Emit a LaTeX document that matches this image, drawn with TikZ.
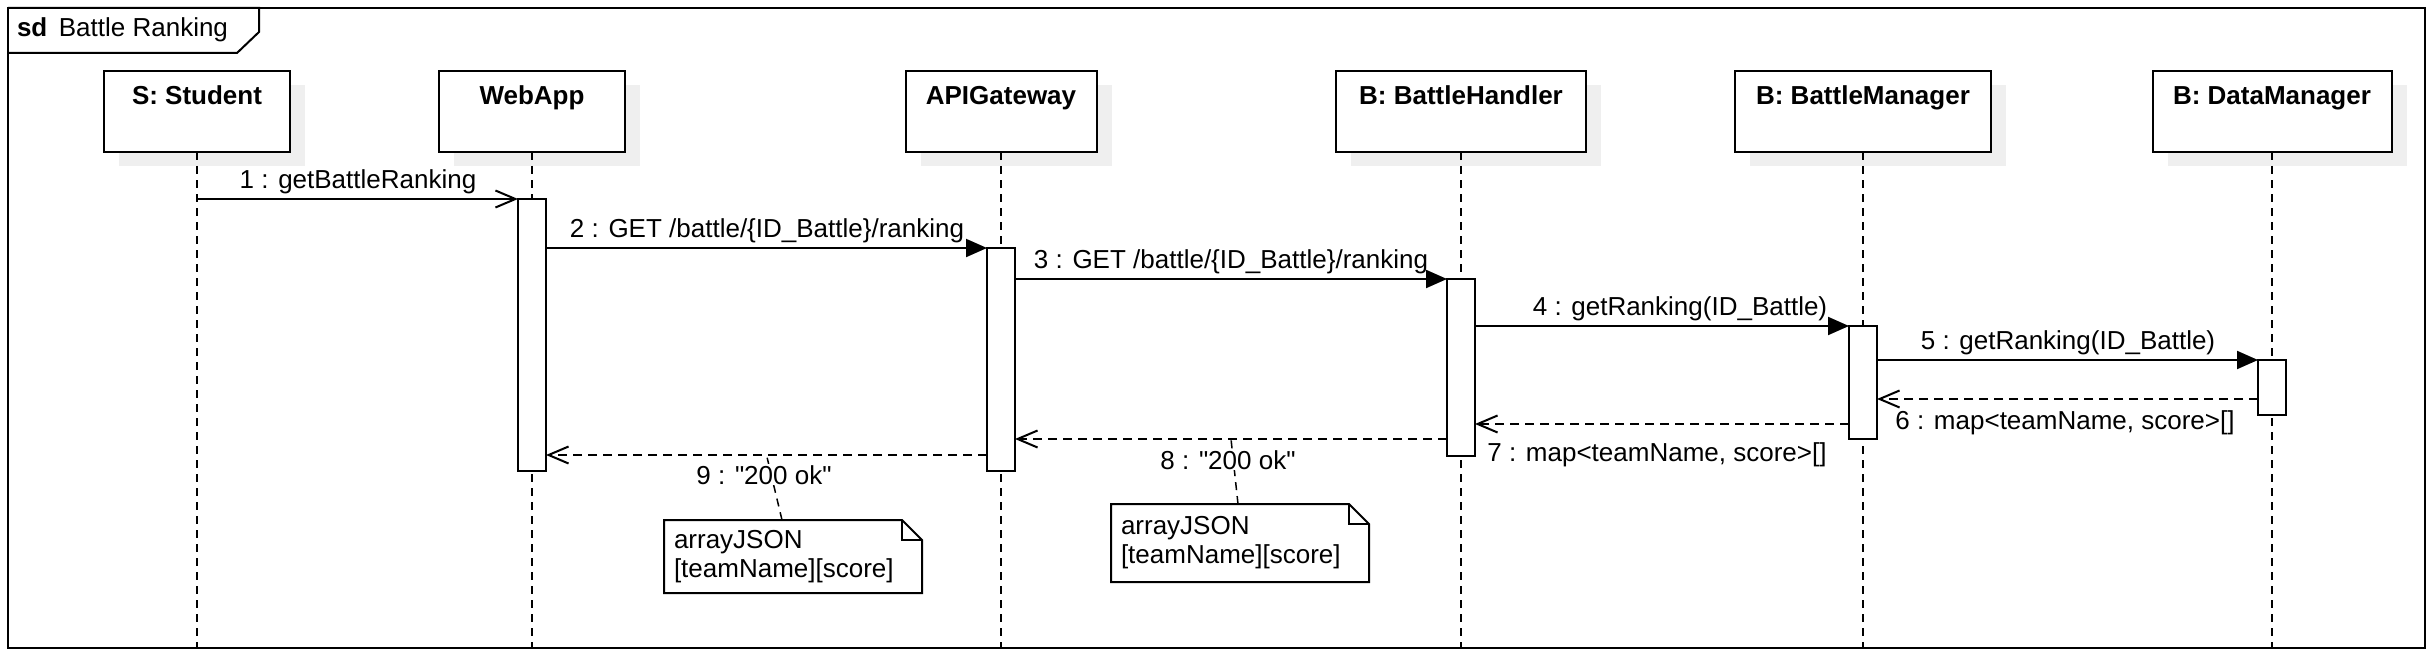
\documentclass[tikz,border=0pt]{standalone}
\usepackage{fontspec}
\setmainfont{Liberation Sans}[Ligatures=TeXOff]
\usetikzlibrary{arrows.meta,calc,shadows}
\definecolor{shadowc}{HTML}{EFEFEF}
\begin{document}
\begin{tikzpicture}[x=1pt,y=-1pt,
  font=\fontsize{26}{29}\selectfont,
  every node/.style={inner sep=0pt, outer sep=0pt},
  lifebox/.style={draw, fill=white, line width=2pt, minimum height=81pt,
    general shadow={fill=shadowc, shadow xshift=15pt, shadow yshift=-14pt}},
  boxtitle/.style={anchor=base, font=\fontsize{26}{29}\selectfont\bfseries},
  act/.style={draw, fill=white, line width=2pt, minimum width=28pt, anchor=north},
  life/.style={line width=2pt, dash pattern=on 8pt off 6pt},
  call/.style={line width=2pt, -{Triangle[length=21pt,width=18pt]}},
  async/.style={line width=2pt, -{Straight Barb[length=20pt,width=17pt]}},
  ret/.style={line width=2pt, dash pattern=on 9pt off 6pt, -{Straight Barb[length=20pt,width=17pt]}},
  msglabel/.style={anchor=base},
  notebox/.style={minimum width=258pt, anchor=north west, align=left, text width=238pt, inner xsep=10pt},
  noteline/.style={line width=1.5pt, dash pattern=on 8pt off 6pt},
  noteborder/.style={line width=2pt}
]
\useasboundingbox (0,0) rectangle (2434,658);
% frame
\draw[line width=2pt] (8,8) rectangle (2425,648);
\coordinate (fb) at (0,648);
\draw[line width=2pt] (8,8) -- (259,8) -- (259,32) -- (237,53) -- (8,53);
\node[anchor=base west] (title) at (17,37) {\textbf{sd}\, Battle Ranking};

% lifeline heads
\node[lifebox, minimum width=186pt] (stu) at (197,111.5) {};
\node[lifebox, minimum width=186pt] (web) at (532,111.5) {};
\node[lifebox, minimum width=191pt] (api) at (1001,111.5) {};
\node[lifebox, minimum width=250pt] (bh) at (1461,111.5) {};
\node[lifebox, minimum width=256pt] (bm) at (1863,111.5) {};
\node[lifebox, minimum width=239pt] (dm) at (2272,111.5) {};
\node[boxtitle] (stuT) at (197,105) {S: Student};
\node[boxtitle] (webT) at (532,105) {WebApp};
\node[boxtitle] (apiT) at (1001,105) {APIGateway};
\node[boxtitle] (bhT) at (1461,105) {B: BattleHandler};
\node[boxtitle] (bmT) at (1863,105) {B: BattleManager};
\node[boxtitle] (dmT) at (2272,105) {B: DataManager};

% lifelines
\foreach \n in {stu,web,api,bh,bm,dm}
  \draw[life] (\n.south) -- (\n.south |- fb);

% activations
\node[act, minimum height=272pt] (aweb) at (532,199) {};
\node[act, minimum height=223pt] (aapi) at (1001,248) {};
\node[act, minimum height=177pt] (abh) at (1461,279) {};
\node[act, minimum height=113pt] (abm) at (1863,326) {};
\node[act, minimum height=55pt] (adm) at (2272,360) {};

% calls
\draw[async] (stu.south |- aweb.north west) -- (aweb.north west);
\draw[call] (aweb.east |- aapi.north west) -- (aapi.north west);
\draw[call] (aapi.east |- abh.north west) -- (abh.north west);
\draw[call] (abh.east |- abm.north west) -- (abm.north west);
\draw[call] (abm.east |- adm.north west) -- (adm.north west);

% returns
\coordinate (y6) at (0,399);
\coordinate (y7) at (0,424);
\coordinate (y8) at (0,439);
\coordinate (y9) at (0,455);
\draw[ret] (adm.west |- y6) -- (abm.east |- y6);
\draw[ret] (abm.west |- y7) -- (abh.east |- y7);
\draw[ret] (abh.west |- y8) -- (aapi.east |- y8);
\draw[ret] (aapi.west |- y9) -- (aweb.east |- y9);

% notes
\node[notebox, minimum height=73pt] (n9) at (664,520) {arrayJSON\\{}[teamName][score]};
\node[notebox, minimum height=78pt] (n8) at (1111,504) {arrayJSON\\{}[teamName][score]};
\foreach \n in {n9,n8}{
  \draw[noteborder] (\n.north west) -- ($(\n.north east)+(-20,0)$) -- ($(\n.north east)+(0,20)$) -- (\n.south east) -- (\n.south west) -- cycle;
  \draw[noteborder] ($(\n.north east)+(-20,0)$) -- ($(\n.north east)+(-20,20)$) -- ($(\n.north east)+(0,20)$);
}
\draw[noteline] ($(n9.north west)+(118,0)$) -- ($(aapi.west |- y9)!0.5!(aweb.east |- y9)$);
\draw[noteline] ($(n8.north west)+(127,0)$) -- ($(abh.west |- y8)!0.5!(aapi.east |- y8)$);

% labels
\node[msglabel] (l1) at (358,188) {1 : getBattleRanking};
\node[msglabel] (l2) at (767,237) {2 : GET /battle/\{ID\_Battle\}/ranking};
\node[msglabel] (l3) at (1231,268) {3 : GET /battle/\{ID\_Battle\}/ranking};
\node[msglabel] (l4) at (1680,315) {4 : getRanking(ID\_Battle)};
\node[msglabel] (l5) at (2068,349) {5 : getRanking(ID\_Battle)};
\node[msglabel] (l6) at (2065,429) {6 : map<teamName, score>[]};
\node[msglabel] (l7) at (1657,461) {7 : map<teamName, score>[]};
\node[msglabel, fill=white, inner sep=1pt] (l8) at (1228,469) {8 : "200 ok"};
\node[msglabel, fill=white, inner sep=1pt] (l9) at (764,484) {9 : "200 ok"};
\end{tikzpicture}
\end{document}
